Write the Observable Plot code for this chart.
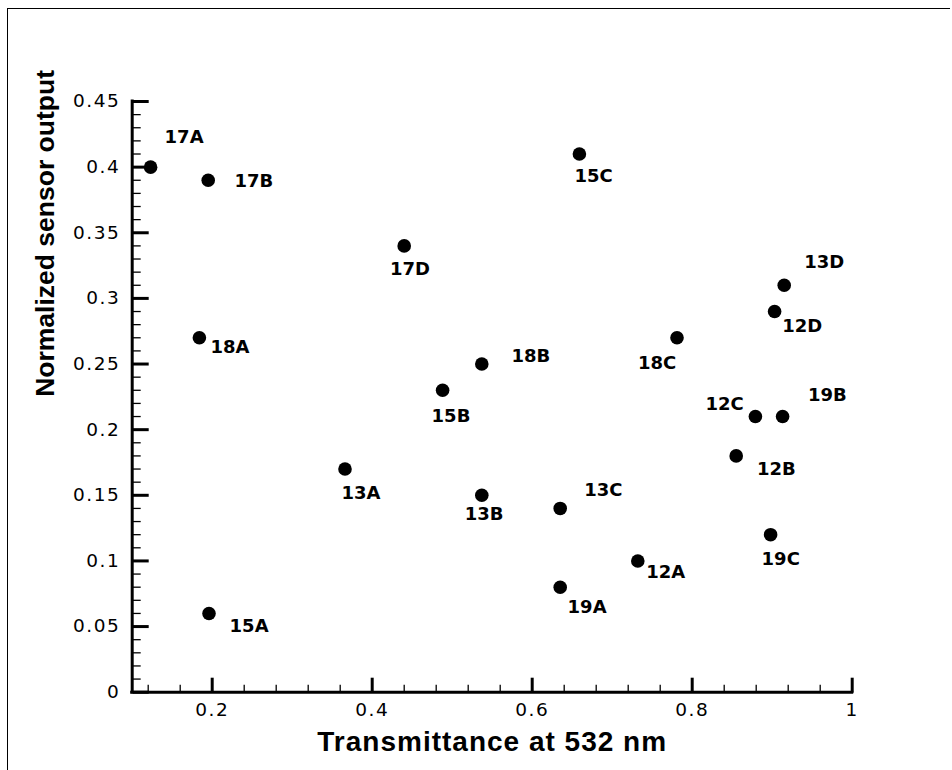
<!DOCTYPE html>
<html>
<head>
<meta charset="utf-8">
<script src="https://cdn.jsdelivr.net/npm/d3@7"></script>
<script src="https://cdn.jsdelivr.net/npm/@observablehq/plot@0.6"></script>
<style>
  html, body { margin: 0; padding: 0; background: #fff; }
  #wrap { position: relative; width: 952px; height: 770px; overflow: hidden; }
  #frame { position: absolute; left: 7px; top: 8px; width: 943px; height: 800px;
           border-left: 1.5px solid #000; border-top: 1.5px solid #000; box-sizing: border-box; }
  svg g[aria-label="x-axis tick label"] text,
  svg g[aria-label="y-axis tick label"] text { letter-spacing: 1.5px; }
</style>
</head>
<body>
<div id="wrap"><div id="frame"></div></div>
<script>
// ---- data ----
const sampleLabels = ["17A","17B","17D","18A","18B","15B","13A","13B","15A","15C","13D","12D","18C","12C","19B","12B","13C","19C","12A","19A"];
const transmittance = [0.123,0.195,0.440,0.184,0.537,0.488,0.366,0.537,0.196,0.659,0.915,0.903,0.781,0.879,0.913,0.855,0.635,0.898,0.732,0.635];
const sensorOutput  = [0.40,0.39,0.34,0.27,0.25,0.23,0.17,0.15,0.06,0.41,0.31,0.29,0.27,0.21,0.21,0.18,0.14,0.12,0.10,0.08];

// tick values and labels
const xMajorTicks = [0.2, 0.4, 0.6, 0.8, 1.0];
const xTickLabels = ["0.2", "0.4", "0.6", "0.8", "1"];
const yMajorTicks = [0, 0.05, 0.1, 0.15, 0.2, 0.25, 0.3, 0.35, 0.4, 0.45];
const yTickLabels = ["0", "0.05", "0.1", "0.15", "0.2", "0.25", "0.3", "0.35", "0.4", "0.45"];
const xTitle = "Transmittance at 532 nm";
const yTitle = "Normalized sensor output";

// label placement (pixel offsets from each point: left edge, vertical centre)
const labelDx = [14,26.3,-14.3,11,29.7,-11,-3.6,-17,20.6,-5,20,7.7,-39,-50,25.3,20.7,24,-9,8.4,7.4];
const labelDy = [-30,0.7,23.6,9.4,-7.3,26,24.6,19.3,12.7,22.4,-22.7,14.7,25,-12.7,-21,13.7,-18.3,24.4,11.6,20];

// minor tick positions
const xMinorTicks = d3.range(3, 25).map(i => +(i * 0.04).toFixed(2)).filter(v => Math.abs(v / 0.2 - Math.round(v / 0.2)) > 1e-6);
const yMinorTicks = d3.range(1, 45).map(i => +(i * 0.01).toFixed(2)).filter(v => Math.abs(v / 0.05 - Math.round(v / 0.05)) > 1e-6);

const points = sampleLabels.map((name, i) => ({name, x: transmittance[i], y: sensorOutput[i]}));
const xLab = new Map(xMajorTicks.map((v, i) => [v, xTickLabels[i]]));
const yLab = new Map(yMajorTicks.map((v, i) => [v, yTickLabels[i]]));

const W = 952, H = 770;
const tickFont = {fontFamily: "DejaVu Sans", fontSize: 18.5};

const labelMarks = points.map((p, i) =>
  Plot.text([p], {x: "x", y: "y", text: "name", textAnchor: "start",
    dx: labelDx[i], dy: labelDy[i], fontFamily: "DejaVu Sans", fontWeight: "bold", fontSize: 18, fill: "black"})
);

const chart = Plot.plot({
  width: W, height: H,
  marginLeft: 131.7, marginRight: W - 851.7, marginTop: 101, marginBottom: H - 691.7,
  x: {domain: [0.1, 1]},
  y: {domain: [0, 0.45]},
  style: {background: "transparent", color: "black", overflow: "visible"},
  marks: [
    // minor + major ticks pointing inward (drawn from the bottom/left frame edge)
    Plot.axisX(xMinorTicks, {anchor: "top", frameAnchor: "bottom", tickSize: 8, strokeWidth: 1.3, fill: "none", label: null}),
    Plot.axisX(xMajorTicks, {anchor: "top", frameAnchor: "bottom", tickSize: 15, strokeWidth: 3, fill: "none", label: null}),
    Plot.axisY(yMinorTicks, {anchor: "right", frameAnchor: "left", tickSize: 8, strokeWidth: 1.3, fill: "none", label: null}),
    Plot.axisY(yMajorTicks, {anchor: "right", frameAnchor: "left", tickSize: 16, strokeWidth: 3, fill: "none", label: null}),
    // tick labels
    Plot.axisX(xMajorTicks, {anchor: "bottom", tickSize: 0, tickPadding: 11, tickFormat: d => xLab.get(d), label: null, ...tickFont}),
    Plot.axisY(yMajorTicks, {anchor: "left", tickSize: 0, tickPadding: 12, tickFormat: d => yLab.get(d), label: null, ...tickFont}),
    // axis lines
    Plot.ruleX([0.1], {strokeWidth: 3, strokeLinecap: "square"}),
    Plot.ruleY([0], {strokeWidth: 3, strokeLinecap: "square"}),
    // axis titles
    Plot.text([xTitle], {frameAnchor: "bottom", dy: 59, fontFamily: "Liberation Sans", fontWeight: "bold", fontSize: 28, fill: "black"}),
    Plot.text([yTitle], {frameAnchor: "left", dx: -87, rotate: -90, fontFamily: "Liberation Sans", fontWeight: "bold", fontSize: 26.5, fill: "black"}),
    // data
    Plot.dot(points, {x: "x", y: "y", r: 6.8, fill: "black", stroke: "none"}),
    ...labelMarks
  ]
});
chart.style.position = "absolute";
chart.style.left = "0px";
chart.style.top = "0px";
d3.select(chart).selectAll("text").filter(function() { return this.textContent === xTitle; }).style("letter-spacing", "1px");
document.getElementById("wrap").appendChild(chart);
</script>
</body>
</html>
